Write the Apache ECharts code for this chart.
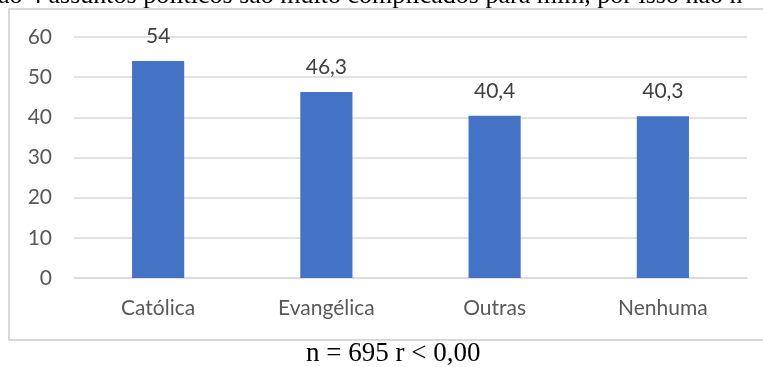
<!DOCTYPE html>
<html>
<head>
<meta charset="utf-8">
<script src="https://cdn.jsdelivr.net/npm/echarts@6/dist/echarts.min.js"></script>
<style>
  html, body { margin: 0; padding: 0; background: #ffffff; }
  #chart { width: 763px; height: 367px; }
</style>
</head>
<body>
<div id="chart"></div>
<script>
// Religião x concordância com a afirmação (%)
const categories = ['Católica', 'Evangélica', 'Outras', 'Nenhuma'];
const values = [54, 46.3, 40.4, 40.3];
const yTicks = [0, 10, 20, 30, 40, 50, 60];
const headingText = 'ão 4 assuntos políticos são muito complicados para mim, por isso não n';
const footnoteText = 'n = 695 r < 0,00';

const labelFont = 'Lato, "Open Sans", sans-serif';
const serifFont = '"Liberation Serif", "Times New Roman", serif';

const chart = echarts.init(document.getElementById('chart'), null, { renderer: 'canvas' });

chart.setOption({
  animation: false,
  backgroundColor: '#ffffff',
  grid: { left: 74, right: 16, top: 37, bottom: 89, containLabel: false },
  xAxis: {
    type: 'category',
    data: categories,
    axisLine: { show: true, lineStyle: { color: '#d9d9d9', width: 1.5 } },
    axisTick: { show: false },
    axisLabel: { color: '#595959', fontFamily: labelFont, fontSize: 21, margin: 20 }
  },
  yAxis: {
    type: 'value',
    min: yTicks[0],
    max: yTicks[yTicks.length - 1],
    interval: yTicks[1] - yTicks[0],
    axisLine: { show: false },
    axisTick: { show: false },
    splitLine: { lineStyle: { color: '#d9d9d9', width: 1.5 } },
    axisLabel: { color: '#595959', fontFamily: labelFont, fontSize: 21, margin: 22 }
  },
  series: [{
    type: 'bar',
    data: values,
    barWidth: '31%',
    itemStyle: { color: '#4472c4' },
    label: {
      show: true,
      position: 'top',
      distance: 14,
      color: '#404040',
      fontFamily: labelFont,
      fontSize: 21,
      formatter: p => String(p.value).replace('.', ',')
    }
  }],
  graphic: [
    {
      type: 'rect',
      silent: true,
      z: -1,
      shape: { x: 9, y: 9, width: 770, height: 331 },
      style: { fill: 'none', stroke: '#d9d9d9', lineWidth: 2 }
    },
    {
      type: 'text',
      silent: true,
      left: -2,
      top: -17,
      style: { text: headingText, font: '26px ' + serifFont, fill: '#000000' }
    },
    {
      type: 'text',
      silent: true,
      left: 306,
      top: 340,
      style: { text: footnoteText, font: '27px ' + serifFont, fill: '#000000' }
    }
  ]
});
</script>
</body>
</html>
